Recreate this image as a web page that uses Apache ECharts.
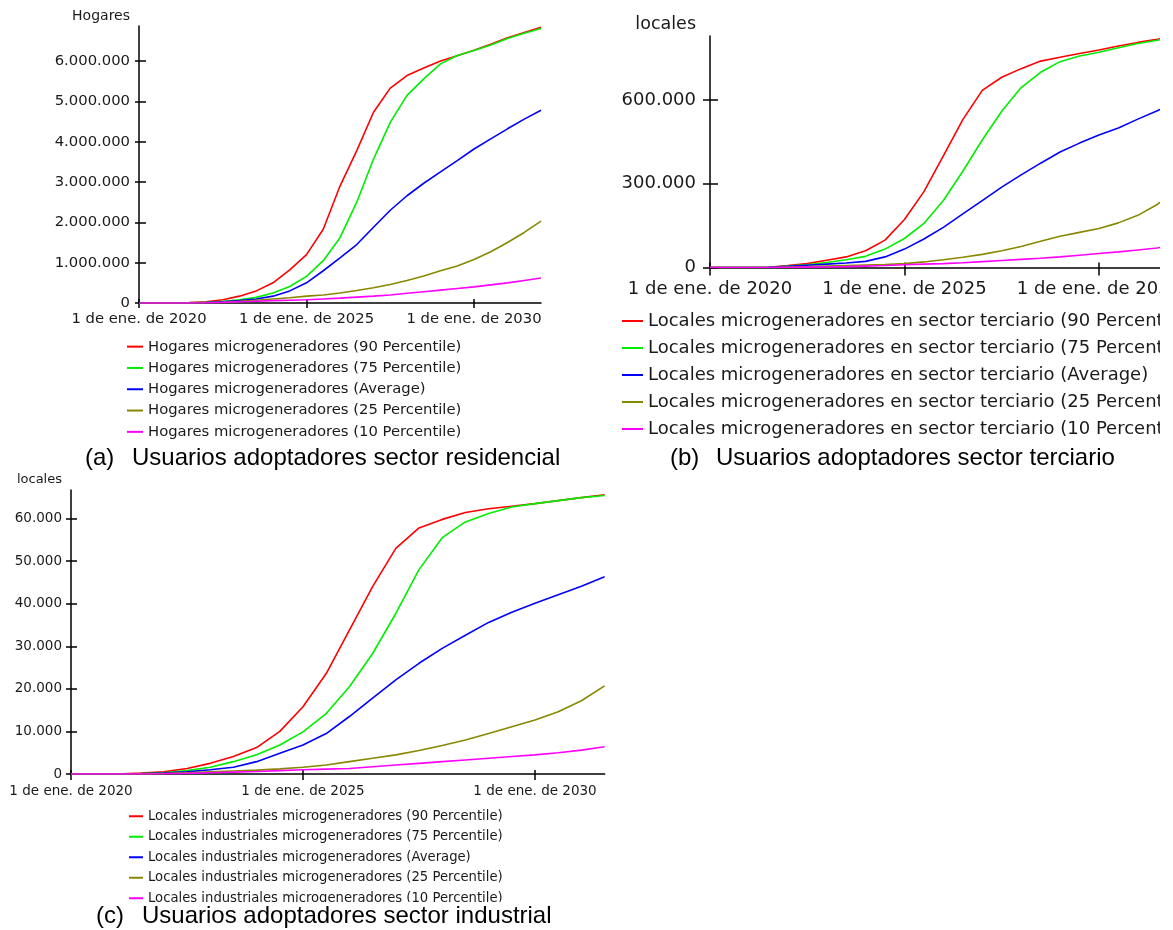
<!DOCTYPE html>
<html>
<head>
<meta charset="utf-8">
<script src="https://cdn.jsdelivr.net/npm/echarts@6/dist/echarts.min.js"></script>
<style>
  html, body { margin: 0; padding: 0; background: #fff; }
  #chart { width: 1160px; height: 930px; }
</style>
</head>
<body>
<div id="chart"></div>
<script>
// ---- Time points (decimal years) ----
const yearsA = [2020, 2020.5, 2021, 2021.5, 2022, 2022.5, 2023, 2023.5, 2024, 2024.5, 2025, 2025.5,
                2026, 2026.5, 2027, 2027.5, 2028, 2028.5, 2029, 2029.5, 2030, 2030.5, 2031, 2031.5, 2032];
const yearsB = [2020, 2020.5, 2021, 2021.5, 2022, 2022.5, 2023, 2023.5, 2024, 2024.5, 2025, 2025.5,
                2026, 2026.5, 2027, 2027.5, 2028, 2028.5, 2029, 2029.5, 2030, 2030.5, 2031, 2031.5, 2031.57];
const yearsC = [2020, 2020.5, 2021, 2021.5, 2022, 2022.5, 2023, 2023.5, 2024, 2024.5, 2025, 2025.5,
                2026, 2026.5, 2027, 2027.5, 2028, 2028.5, 2029, 2029.5, 2030, 2030.5, 2031, 2031.5];

// ---- (a) Hogares microgeneradores ----
const hogaresP90 = [0, 0, 0, 10000, 30000, 80000, 170000, 300000, 500000, 820000, 1200000, 1830000,
                    2900000, 3780000, 4730000, 5330000, 5640000, 5830000, 6000000, 6130000, 6270000, 6420000, 6580000, 6710000, 6840000];
const hogaresP75 = [0, 0, 0, 5000, 20000, 40000, 80000, 140000, 250000, 410000, 660000, 1050000,
                    1620000, 2500000, 3570000, 4480000, 5150000, 5560000, 5930000, 6140000, 6260000, 6400000, 6560000, 6690000, 6810000];
const hogaresAvg = [0, 0, 0, 3000, 10000, 30000, 60000, 100000, 170000, 300000, 500000, 800000,
                    1120000, 1450000, 1880000, 2300000, 2660000, 2970000, 3250000, 3530000, 3820000, 4070000, 4320000, 4560000, 4780000];
const hogaresP25 = [0, 0, 0, 0, 5000, 20000, 40000, 70000, 100000, 130000, 170000, 200000,
                    250000, 310000, 380000, 460000, 560000, 670000, 800000, 920000, 1080000, 1270000, 1500000, 1750000, 2030000];
const hogaresP10 = [0, 0, 0, 0, 5000, 15000, 30000, 45000, 60000, 70000, 80000, 100000,
                    120000, 145000, 170000, 200000, 240000, 280000, 320000, 360000, 400000, 450000, 500000, 560000, 620000];

// ---- (b) Locales microgeneradores en sector terciario ----
const terciarioP90 = [0, 0, 0, 1000, 7000, 14000, 26000, 38000, 60000, 98000, 172000, 272000,
                      400000, 530000, 635000, 682000, 713000, 740000, 754000, 767000, 780000, 794000, 807000, 818000, 820000];
const terciarioP75 = [0, 0, 0, 500, 5000, 10000, 18000, 28000, 40000, 66000, 104000, 158000,
                      240000, 345000, 457000, 560000, 645000, 700000, 738000, 758000, 772000, 788000, 803000, 815000, 817000];
const terciarioAvg = [0, 0, 0, 500, 4000, 8000, 12000, 16000, 22000, 38000, 66000, 102000,
                      144000, 192000, 240000, 288000, 332000, 374000, 414000, 446000, 475000, 500000, 532000, 562000, 567000];
const terciarioP25 = [0, 0, 0, 0, 2000, 3000, 5000, 7000, 9000, 11000, 14000, 20000,
                      28000, 37000, 47000, 60000, 75000, 94000, 112000, 126000, 140000, 160000, 187000, 226000, 234000];
const terciarioP10 = [0, 0, 0, 0, 1000, 1500, 2000, 3000, 5000, 7000, 10000, 12000,
                      14000, 17000, 21000, 25000, 29000, 33000, 38000, 44000, 50000, 56000, 63000, 70000, 72000];

// ---- (c) Locales industriales microgeneradores ----
const industrialP90 = [0, 0, 0, 200, 500, 1300, 2500, 4100, 6200, 10000, 15800, 23600,
                       33800, 44000, 53000, 57800, 59800, 61400, 62300, 62900, 63500, 64200, 64900, 65600];
const industrialP75 = [0, 0, 0, 100, 300, 800, 1600, 2900, 4500, 6800, 9900, 14200,
                       20500, 28300, 37700, 48000, 55500, 59200, 61200, 62700, 63500, 64200, 64900, 65400];
const industrialAvg = [0, 0, 0, 50, 200, 500, 1000, 1600, 2900, 4900, 6800, 9500,
                       13500, 17800, 22100, 26000, 29500, 32600, 35600, 38000, 40100, 42100, 44100, 46300];
const industrialP25 = [0, 0, 0, 0, 100, 300, 500, 700, 900, 1200, 1600, 2100,
                       2900, 3700, 4500, 5500, 6700, 8000, 9500, 11100, 12700, 14600, 17200, 20700];
const industrialP10 = [0, 0, 0, 0, 50, 150, 300, 450, 600, 800, 1000, 1150,
                       1300, 1700, 2100, 2500, 2900, 3300, 3700, 4100, 4500, 5000, 5600, 6400];

// ---- Labels ----
const statLabels = ['90 Percentile', '75 Percentile', 'Average', '25 Percentile', '10 Percentile'];
const seriesColors = ['#ff0000', '#00ee00', '#0000ff', '#888800', '#ff00ff'];
const yearTicks = [2020, 2025, 2030];
const yTicksA = [0, 1000000, 2000000, 3000000, 4000000, 5000000, 6000000];
const yTicksB = [0, 300000, 600000];
const yTicksC = [0, 10000, 20000, 30000, 40000, 50000, 60000];

const FONT = 'DejaVu Sans';
const CAPTION_FONT = '24px "Liberation Sans", Arial, sans-serif';

function thousands(v) {
  return String(Math.round(v)).replace(/\B(?=(\d{3})+(?!\d))/g, '.');
}

// Panel layout: plot box, axis extents, fonts and tick lengths
const panels = [
  {
    prefix: 'Hogares microgeneradores', unit: 'Hogares',
    years: yearsA, values: [hogaresP90, hogaresP75, hogaresAvg, hogaresP25, hogaresP10],
    grid: { left: 139, top: 26, width: 402, height: 277 },
    xMax: 2032, yMax: 6870000, yTicks: yTicksA,
    labelSize: 14.8, xMargin: 9, yMargin: 9,
    nameSize: 14, nameGap: 9.5, namePad: 9,
    tickOut: 5, tickIn: 4, yTickOut: 4, yTickIn: 7,
    legend: { left: 127, top: 336, itemWidth: 16, fontSize: 14.8, lineHeight: 21.3 }
  },
  {
    prefix: 'Locales microgeneradores en sector terciario', unit: 'locales',
    years: yearsB, values: [terciarioP90, terciarioP75, terciarioAvg, terciarioP25, terciarioP10],
    grid: { left: 710, top: 36, width: 450, height: 231.5 },
    xMax: 2031.57, yMax: 830000, yTicks: yTicksB,
    labelSize: 18, xMargin: 13, yMargin: 14,
    nameSize: 17.5, nameGap: 12, namePad: 14,
    tickOut: 8, tickIn: 5, yTickOut: 7, yTickIn: 8,
    legend: { left: 622, top: 307.5, itemWidth: 21, fontSize: 18, lineHeight: 27 }
  },
  {
    prefix: 'Locales industriales microgeneradores', unit: 'locales',
    years: yearsC, values: [industrialP90, industrialP75, industrialAvg, industrialP25, industrialP10],
    grid: { left: 71, top: 490, width: 533.6, height: 284 },
    xMax: 2031.5, yMax: 66700, yTicks: yTicksC,
    labelSize: 13.5, xMargin: 10, yMargin: 9,
    nameSize: 13, nameGap: 10, namePad: 9,
    tickOut: 6, tickIn: 4, yTickOut: 5, yTickIn: 6,
    legend: { left: 129, top: 806, itemWidth: 14, fontSize: 13.2, lineHeight: 20.5 }
  }
];

const axisLineStyle = { color: '#000', width: 1.5 };
const textColor = '#1a1a1a';

const grids = [], xAxes = [], yAxes = [], series = [], legends = [];

panels.forEach((p, i) => {
  // fixed plot boxes; labels may run past the chart edge and get cut there
  grids.push(Object.assign({ containLabel: false, outerBoundsMode: 'none' }, p.grid));

  // main x axis: line, labels, ticks below the line
  xAxes.push({
    type: 'value', gridIndex: i, position: 'bottom', min: 2020, max: p.xMax,
    axisLine: { show: true, onZero: false, lineStyle: axisLineStyle },
    axisTick: { show: true, customValues: yearTicks, inside: false, length: p.tickOut, lineStyle: axisLineStyle },
    axisLabel: {
      customValues: yearTicks, formatter: v => '1 de ene. de ' + v,
      margin: p.xMargin, fontFamily: FONT, fontSize: p.labelSize, color: textColor
    },
    splitLine: { show: false }
  });
  // companion x axis: tick marks above the line
  xAxes.push({
    type: 'value', gridIndex: i, position: 'bottom', min: 2020, max: p.xMax,
    axisLine: { show: false, onZero: false },
    axisTick: { show: true, customValues: yearTicks, inside: true, length: p.tickIn, lineStyle: axisLineStyle },
    axisLabel: { show: false },
    splitLine: { show: false }
  });

  yAxes.push({
    type: 'value', gridIndex: i, position: 'left', min: 0, max: p.yMax,
    name: p.unit, nameLocation: 'end', nameGap: p.nameGap,
    nameTextStyle: {
      align: 'right', verticalAlign: 'middle', padding: [0, p.namePad, 0, 0],
      fontFamily: FONT, fontSize: p.nameSize, color: textColor
    },
    axisLine: { show: true, onZero: false, lineStyle: axisLineStyle },
    axisTick: { show: true, customValues: p.yTicks, inside: false, length: p.yTickOut, lineStyle: axisLineStyle },
    axisLabel: {
      customValues: p.yTicks, formatter: thousands,
      margin: p.yMargin, fontFamily: FONT, fontSize: p.labelSize, color: textColor
    },
    splitLine: { show: false }
  });
  yAxes.push({
    type: 'value', gridIndex: i, position: 'left', min: 0, max: p.yMax,
    axisLine: { show: false, onZero: false },
    axisTick: { show: true, customValues: p.yTicks, inside: true, length: p.yTickIn, lineStyle: axisLineStyle },
    axisLabel: { show: false },
    splitLine: { show: false }
  });

  const names = statLabels.map(s => p.prefix + ' (' + s + ')');
  names.forEach((name, k) => {
    series.push({
      type: 'line', name: name,
      xAxisIndex: 2 * i, yAxisIndex: 2 * i,
      data: p.years.map((x, j) => [x, p.values[k][j]]),
      symbol: 'none', showSymbol: false,
      color: seriesColors[k],
      lineStyle: { color: seriesColors[k], width: 1.6 },
      clip: true
    });
  });

  legends.push({
    orient: 'vertical', left: p.legend.left, top: p.legend.top,
    padding: 0, itemGap: 0, icon: 'rect',
    itemWidth: p.legend.itemWidth, itemHeight: 2,
    selectedMode: false, data: names,
    textStyle: {
      fontFamily: FONT, fontSize: p.legend.fontSize,
      lineHeight: p.legend.lineHeight, color: textColor
    }
  });
});

// Sub-figure captions
function caption(tag, text, tagX, textX, y) {
  return [
    { type: 'text', x: tagX, y: y, z: 101,
      style: { text: tag, font: CAPTION_FONT, fill: '#000', verticalAlign: 'middle' } },
    { type: 'text', x: textX, y: y, z: 101,
      style: { text: text, font: CAPTION_FONT, fill: '#000', verticalAlign: 'middle' } }
  ];
}

const graphics = [].concat(
  caption('(a)', 'Usuarios adoptadores sector residencial', 85, 132, 458),
  caption('(b)', 'Usuarios adoptadores sector terciario', 670, 716, 458),
  caption('(c)', 'Usuarios adoptadores sector industrial', 96, 142, 916),
  // caption band of panel (c) sits over the bottom edge of its legend
  [{ type: 'rect', z: 100, shape: { x: 0, y: 902, width: 640, height: 28 }, style: { fill: '#fff' } }]
);

const chart = echarts.init(document.getElementById('chart'), null, { renderer: 'canvas' });
chart.setOption({
  animation: false,
  backgroundColor: '#fff',
  grid: grids,
  xAxis: xAxes,
  yAxis: yAxes,
  legend: legends,
  series: series,
  graphic: graphics
});
</script>
</body>
</html>
